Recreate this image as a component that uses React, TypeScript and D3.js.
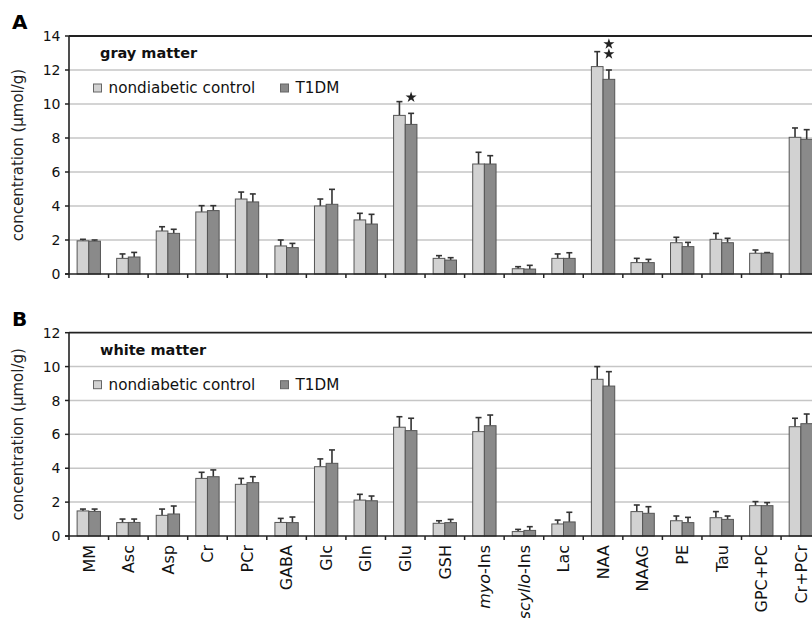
import React from "react";
import * as d3 from "d3";

const categories = ["MM", "Asc", "Asp", "Cr", "PCr", "GABA", "Glc", "Gln", "Glu", "GSH", "myo-Ins", "scyllo-Ins", "Lac", "NAA", "NAAG", "PE", "Tau", "GPC+PC", "Cr+PCr"];
const seriesNames = ["nondiabetic control", "T1DM"];

// gray matter (panel A)
const grayControl = [1.95, 0.92, 2.53, 3.65, 4.41, 1.65, 4.0, 3.18, 9.33, 0.92, 6.47, 0.31, 0.92, 12.2, 0.67, 1.84, 2.04, 1.22, 8.04];
const grayControlSd = [0.09, 0.26, 0.25, 0.37, 0.41, 0.35, 0.41, 0.39, 0.81, 0.16, 0.69, 0.12, 0.26, 0.88, 0.25, 0.32, 0.35, 0.19, 0.55];
const grayT1dm = [1.93, 1.0, 2.39, 3.73, 4.24, 1.55, 4.1, 2.94, 8.8, 0.82, 6.47, 0.29, 0.92, 11.45, 0.67, 1.61, 1.84, 1.22, 7.92];
const grayT1dmSd = [0.07, 0.27, 0.24, 0.29, 0.47, 0.25, 0.88, 0.57, 0.65, 0.14, 0.49, 0.22, 0.33, 0.55, 0.19, 0.25, 0.26, 0.04, 0.57];

// white matter (panel B)
const whiteControl = [1.48, 0.79, 1.22, 3.4, 3.05, 0.8, 4.09, 2.12, 6.42, 0.75, 6.16, 0.26, 0.71, 9.25, 1.44, 0.9, 1.08, 1.79, 6.45];
const whiteControlSd = [0.11, 0.21, 0.37, 0.36, 0.35, 0.24, 0.46, 0.34, 0.62, 0.15, 0.83, 0.13, 0.23, 0.75, 0.39, 0.28, 0.36, 0.24, 0.5];
const whiteT1dm = [1.45, 0.8, 1.3, 3.5, 3.15, 0.79, 4.29, 2.08, 6.22, 0.79, 6.51, 0.33, 0.83, 8.85, 1.34, 0.79, 0.98, 1.79, 6.63];
const whiteT1dmSd = [0.14, 0.2, 0.47, 0.4, 0.35, 0.33, 0.79, 0.28, 0.73, 0.19, 0.63, 0.22, 0.57, 0.85, 0.39, 0.31, 0.2, 0.18, 0.57];

const grayTicks = [0, 2, 4, 6, 8, 10, 12, 14];
const whiteTicks = [0, 2, 4, 6, 8, 10, 12];

// significance stars above T1DM bar: category -> number of stars
const graySig = [{ cat: "Glu", n: 1 }, { cat: "NAA", n: 2 }];

const italicPart: Record<string, [string, string]> = {
  "myo-Ins": ["myo", "-Ins"],
  "scyllo-Ins": ["scyllo", "-Ins"],
};

const colors = ["#d2d2d2", "#8a8a8a"];
const font = "'DejaVu Sans', sans-serif";

const x = d3.scaleBand().domain(categories).range([69, 69 + 19 * 39.56]).paddingInner(0.41).paddingOuter(0.205);
const xSub = d3.scaleBand().domain(["0", "1"]).range([0, x.bandwidth()]);

type PanelProps = {
  letter: string;
  title: string;
  top: number;
  bottom: number;
  ticks: number[];
  means: number[][];
  sds: number[][];
  sig?: { cat: string; n: number }[];
  showLabels?: boolean;
};

const Panel = ({ letter, title, top, bottom, ticks, means, sds, sig = [], showLabels }: PanelProps) => {
  const yMax = ticks[ticks.length - 1];
  const y = d3.scaleLinear().domain([0, yMax]).range([bottom, top]);
  const left = 69;
  const right = 830;
  const star = d3.symbol(d3.symbolStar, 38)();
  const bounds = d3.range(categories.length + 1).map((i) => x.step() * i + left);

  return (
    <g>
      <text x={12} y={top - 7} fontFamily={font} fontWeight="bold" fontSize={20}>{letter}</text>
      <text transform={`translate(23,${(top + bottom) / 2}) rotate(-90)`} textAnchor="middle" fontFamily={font} fontSize={15} fill="#222">
        concentration (µmol/g)
      </text>
      {ticks.slice(1, -1).map((t) => (
        <line key={t} x1={left} x2={right} y1={y(t)} y2={y(t)} stroke="#c6c6c6" strokeWidth={1.5} />
      ))}
      {ticks.map((t) => (
        <g key={t}>
          <line x1={left - 4} x2={left} y1={y(t)} y2={y(t)} stroke="#222" strokeWidth={1.5} />
          <text x={60.5} y={y(t)} dy="0.36em" textAnchor="end" fontFamily={font} fontSize={14} fill="#111">{t}</text>
        </g>
      ))}
      {categories.map((c, i) => (
        <g key={c} transform={`translate(${x(c)},0)`}>
          {[0, 1].map((s) => {
            const v = means[s][i];
            const e = v + sds[s][i];
            const bx = xSub(String(s)) as number;
            const cx = bx + xSub.bandwidth() / 2;
            return (
              <g key={s}>
                <line x1={cx} x2={cx} y1={y(v)} y2={y(e)} stroke="#333" strokeWidth={1.6} />
                <line x1={cx - 3} x2={cx + 3} y1={y(e)} y2={y(e)} stroke="#333" strokeWidth={1.6} />
                <rect x={bx} y={y(v)} width={xSub.bandwidth()} height={bottom - y(v)} fill={colors[s]} stroke="#555" strokeWidth={1} />
              </g>
            );
          })}
        </g>
      ))}
      {sig.map(({ cat, n }) => {
        const i = categories.indexOf(cat);
        const cx = (x(cat) as number) + (xSub("1") as number) + xSub.bandwidth() / 2;
        const base = y(means[1][i] + sds[1][i]) - 16;
        return d3.range(n).map((k) => (
          <path key={cat + k} d={star as string} transform={`translate(${cx},${base - k * 10})`} fill="#222" />
        ));
      })}
      <line x1={left} x2={right} y1={top} y2={top} stroke="#222" strokeWidth={1.8} />
      <line x1={left} x2={left} y1={top} y2={bottom} stroke="#222" strokeWidth={1.6} />
      <line x1={left - 4} x2={right} y1={bottom} y2={bottom} stroke="#222" strokeWidth={1.6} />
      {bounds.map((b, i) => (
        <line key={i} x1={b} x2={b} y1={bottom} y2={bottom + 4} stroke="#222" strokeWidth={1.5} />
      ))}
      <text x={100} y={top + 22} fontFamily={font} fontWeight="bold" fontSize={14.5} fill="#111">{title}</text>
      {seriesNames.map((name, s) => {
        const lx = s === 0 ? 93.5 : 280.5;
        return (
          <g key={name}>
            <rect x={lx} y={top + 48} width={8} height={8} fill={colors[s]} stroke="#666" strokeWidth={1} />
            <text x={lx + 15} y={top + 57} fontFamily={font} fontSize={15.2} fill="#111">{name}</text>
          </g>
        );
      })}
      {showLabels &&
        categories.map((c) => {
          const cx = (x(c) as number) + x.bandwidth() / 2;
          const parts = italicPart[c];
          return (
            <text key={c} transform={`translate(${cx},545) rotate(-90)`} textAnchor="end" dy="0.36em" fontFamily={font} fontSize={16} fill="#111">
              {parts ? (
                <>
                  <tspan fontStyle="italic">{parts[0]}</tspan>
                  <tspan>{parts[1]}</tspan>
                </>
              ) : (
                c
              )}
            </text>
          );
        })}
    </g>
  );
};

export default function App() {
  return (
    <svg width={812} height={618} style={{ position: "absolute", left: 0, top: 0, background: "#fff" }}>
      <Panel letter="A" title="gray matter" top={36} bottom={274} ticks={grayTicks} means={[grayControl, grayT1dm]} sds={[grayControlSd, grayT1dmSd]} sig={graySig} />
      <Panel letter="B" title="white matter" top={332.7} bottom={536} ticks={whiteTicks} means={[whiteControl, whiteT1dm]} sds={[whiteControlSd, whiteT1dmSd]} showLabels />
    </svg>
  );
}
